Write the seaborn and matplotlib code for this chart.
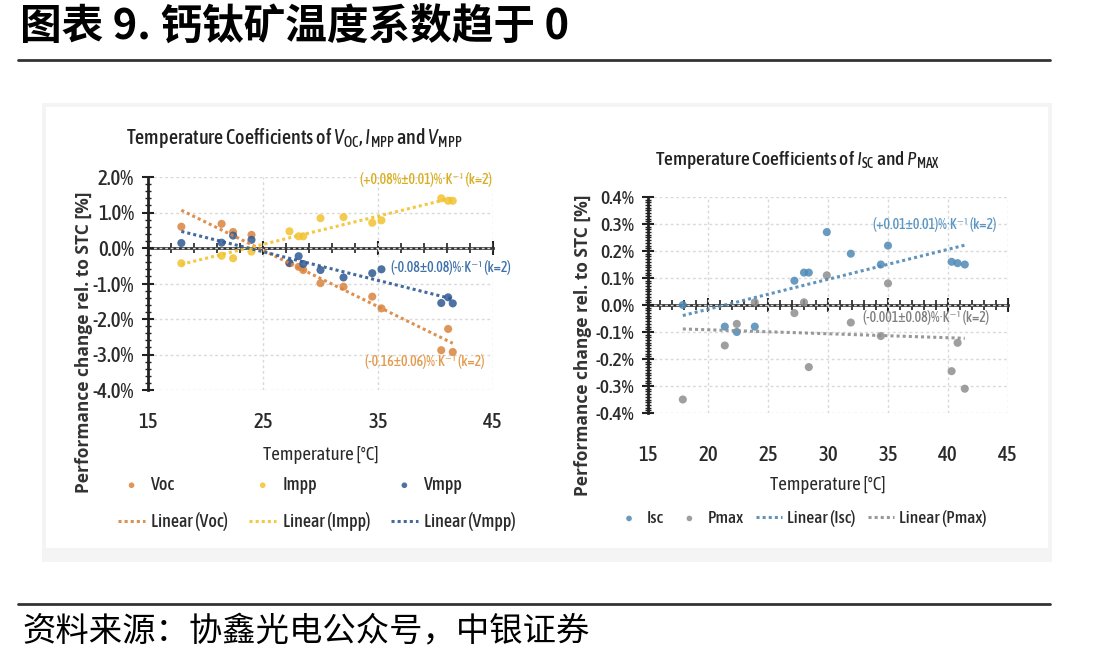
import numpy as np
import pandas as pd
import matplotlib
matplotlib.use('Agg')
import matplotlib.pyplot as plt
import seaborn as sns
from matplotlib.patches import Rectangle
from matplotlib.lines import Line2D
from matplotlib.ticker import FixedLocator, AutoMinorLocator, FuncFormatter

# ---- data -------------------------------------------------------------
temp_left = [17.9, 21.4, 22.4, 24.0, 27.3, 28.1, 28.5, 30.0, 32.0, 34.5, 35.3, 40.5, 41.1, 41.5]
voc = [0.60, 0.68, 0.45, 0.37, -0.43, -0.53, -0.62, -0.99, -1.09, -1.37, -1.70, -2.88, -2.28, -2.93]
impp = [-0.43, -0.22, -0.29, -0.10, 0.47, 0.33, 0.33, 0.84, 0.87, 0.71, 0.78, 1.40, 1.33, 1.33]
vmpp = [0.14, 0.15, 0.35, 0.23, -0.42, -0.23, -0.45, -0.62, -0.83, -0.71, -0.60, -1.55, -1.39, -1.56]

temp_right = [17.9, 21.4, 22.4, 23.9, 27.2, 28.0, 28.4, 29.9, 31.9, 34.4, 35.0, 40.3, 40.8, 41.4]
isc = [0.00, -0.08, -0.10, -0.08, 0.09, 0.12, 0.12, 0.27, 0.19, 0.15, 0.22, 0.16, 0.155, 0.15]
pmax = [-0.35, -0.15, -0.07, 0.01, -0.03, 0.01, -0.23, 0.11, -0.065, -0.115, 0.08, -0.245, -0.14, -0.31]

left_series = ['Voc', 'Impp', 'Vmpp']
right_series = ['Isc', 'Pmax']
left_ticks = [15, 25, 35, 45]
right_ticks = [15, 20, 25, 30, 35, 40, 45]

left_notes = ['(+0.08%±0.01)%·K⁻¹ (k=2)', '(-0.08±0.08)%·K⁻¹ (k=2)', '(-0.16±0.06)%·K⁻¹ (k=2)']
right_notes = ['(+0.01±0.01)%·K⁻¹ (k=2)', '(-0.001±0.08)%·K⁻¹ (k=2)']

# ---- style ----------------------------------------------------------------
sns.set_style('white')
NARROW = ['Asap Condensed', 'DejaVu Sans']
plt.rcParams['font.family'] = NARROW
plt.rcParams['font.weight'] = 500
plt.rcParams['mathtext.fontset'] = 'custom'
plt.rcParams['mathtext.rm'] = 'Asap Condensed:medium'
plt.rcParams['mathtext.it'] = 'Asap Condensed:italic:medium'
CJK = ['Noto Sans CJK SC', 'DejaVu Sans']

colors = {'Voc': '#D9843E', 'Impp': '#F2C230', 'Vmpp': '#2F5A93',
          'Isc': '#4F89B5', 'Pmax': '#8E8E8E'}
note_colors = ['#D9AE1E', '#3E70AA', '#E29A4C']
note_colors_r = ['#5A96C4', '#7F7F7F']
AX_COL = '#222222'
TXT = '#2a2a2a'

W, H = 1099, 663
fig = plt.figure(figsize=(W / 100, H / 100), dpi=100)


def fx(x):
    return x / W


def fy(y):
    return 1 - y / H


def pct(v, pos):
    s = f"{v:.1f}%"
    return '0.0%' if s == '-0.0%' else s


# background of the embedded picture
fig.patches.append(Rectangle((fx(42), fy(562)), fx(1052) - fx(42), fy(103) - fy(562),
                             transform=fig.transFigure, facecolor='#f4f4f4', edgecolor='none', zorder=-5))
fig.patches.append(Rectangle((fx(46), fy(548)), fx(1048) - fx(46), fy(107) - fy(548),
                             transform=fig.transFigure, facecolor='white', edgecolor='none', zorder=-4))

# header / footer
fig.text(fx(20), fy(28), '图表 9. 钙钛矿温度系数趋于 0', family=CJK, fontsize=30,
         fontweight='bold', va='center', ha='left', color='black')
fig.add_artist(Line2D([fx(18), fx(1050)], [fy(60), fy(60)], color='#333333', lw=2))
fig.add_artist(Line2D([fx(18), fx(1050)], [fy(604), fy(604)], color='#333333', lw=2))
fig.text(fx(22), fy(632), '资料来源：协鑫光电公众号，中银证券', family=CJK, fontsize=24,
         fontweight='light', va='center', ha='left', color='black')


def style_axes(ax, xlim, ylim, xmaj, ymaj, yminor_n, tick_pad, zero_maj, zero_min, ysize):
    ax.set_xlim(*xlim)
    ax.set_ylim(*ylim)
    ax.set_facecolor('none')
    for s in ['top', 'right', 'bottom']:
        ax.spines[s].set_visible(False)
    ax.spines['left'].set_linewidth(2)
    ax.spines['left'].set_color(AX_COL)
    ax.xaxis.set_major_locator(FixedLocator(xmaj))
    ax.yaxis.set_major_locator(FixedLocator(ymaj))
    ax.yaxis.set_minor_locator(AutoMinorLocator(yminor_n))
    ax.yaxis.set_major_formatter(FuncFormatter(pct))
    ax.tick_params(axis='x', length=0, pad=tick_pad, labelsize=15, labelcolor=TXT)
    ax.tick_params(axis='y', which='major', direction='inout', length=8, width=1.5,
                   color=AX_COL, labelsize=ysize, labelcolor=TXT, pad=6, left=True)
    ax.tick_params(axis='y', which='minor', direction='inout', length=5, width=1,
                   color=AX_COL, left=True)
    ax.grid(True, which='major', ls=(0, (2, 2)), color='#d9d9d9', lw=1)
    ax.set_axisbelow(True)
    # zero line with its tick marks
    frac = (0 - ylim[0]) / (ylim[1] - ylim[0])
    sec = ax.secondary_xaxis(frac)
    sec.xaxis.set_major_locator(FixedLocator(zero_maj))
    sec.xaxis.set_minor_locator(FixedLocator(zero_min))
    sec.tick_params(which='major', direction='inout', length=10, width=1.5, color=AX_COL,
                    labeltop=False, labelbottom=False)
    sec.tick_params(which='minor', direction='inout', length=7, width=1.2, color=AX_COL)
    for s in sec.spines.values():
        s.set_linewidth(2)
        s.set_color('#333333')


# ---- left chart -------------------------------------------------------------
ax1 = fig.add_axes([fx(148), fy(390), fx(493) - fx(148), fy(177) - fy(390)])
df_left = pd.DataFrame({'temp': temp_left, 'Voc': voc, 'Impp': impp, 'Vmpp': vmpp})
for name in left_series:
    sns.scatterplot(data=df_left, x='temp', y=name, color=colors[name], s=34,
                    edgecolor='none', alpha=0.85, label=name, ax=ax1)
for name in left_series:
    sns.regplot(data=df_left, x='temp', y=name, scatter=False, ci=None, ax=ax1,
                label=f'Linear ({name})',
                line_kws=dict(color=colors[name], lw=2.2, ls=(0, (1, 1)), alpha=0.9))
style_axes(ax1, (15, 45), (-4, 2), left_ticks, np.arange(-4, 2.1, 1),
           5, 16, left_ticks, list(range(15, 46, 2)), 15)
ax1.set_xlabel('Temperature [°C]', fontsize=13.5, color=TXT, labelpad=10)
ax1.set_ylabel('')
ax1.text(39.2, 1.92, left_notes[0], color=note_colors[0], fontsize=10, ha='center', va='center')
ax1.text(41.3, -0.54, left_notes[1], color=note_colors[1], fontsize=10, ha='center', va='center')
ax1.text(39.1, -3.21, left_notes[2], color=note_colors[2], fontsize=10, ha='center', va='center')

h, l = ax1.get_legend_handles_labels()
pos = {lab: i for i, lab in enumerate(l)}
wanted = ['Voc', 'Linear (Voc)', 'Impp', 'Linear (Impp)', 'Vmpp', 'Linear (Vmpp)']
ax1.legend([h[pos[w]] for w in wanted], wanted, ncol=3, loc='upper left',
           bbox_to_anchor=(fx(118), fy(476)), bbox_transform=fig.transFigure,
           frameon=False, fontsize=13, handlelength=1.5, handletextpad=0.35,
           columnspacing=1.15, labelspacing=1.0, borderpad=0, borderaxespad=0,
           markerscale=0.7, labelcolor=TXT)

fig.text(fx(294), fy(138), r'Temperature Coefficients of $\mathit{V}_{\mathrm{OC}}$, '
         r'$\mathit{I}_{\mathrm{MPP}}$ and $\mathit{V}_{\mathrm{MPP}}$',
         fontsize=14.5, ha='center', va='center', color='#222222')
fig.text(fx(84), fy(342), 'Performance change rel. to STC [%]', family=['Open Sans', 'DejaVu Sans'],
         fontsize=12.5, fontweight='bold', rotation=90, ha='center', va='center', color='#333333')

# ---- right chart ------------------------------------------------------------
ax2 = fig.add_axes([fx(648), fy(413), fx(1008) - fx(648), fy(197) - fy(413)])
df_right = pd.DataFrame({'temp': temp_right, 'Isc': isc, 'Pmax': pmax})
for name in right_series:
    sns.scatterplot(data=df_right, x='temp', y=name, color=colors[name], s=34,
                    edgecolor='none', alpha=0.85, label=name, ax=ax2)
for name in right_series:
    sns.regplot(data=df_right, x='temp', y=name, scatter=False, ci=None, ax=ax2,
                label=f'Linear ({name})',
                line_kws=dict(color=colors[name], lw=2.2, ls=(0, (1, 1)), alpha=0.9))
style_axes(ax2, (15, 45), (-0.4, 0.4), right_ticks,
           np.round(np.arange(-0.4, 0.41, 0.1), 2), 10, 23, right_ticks, list(range(15, 46)), 14)
ax2.set_xlabel('Temperature [°C]', fontsize=13.5, color=TXT, labelpad=8)
ax2.set_ylabel('')
ax2.text(38.9, 0.299, right_notes[0], color=note_colors_r[0], fontsize=10, ha='center', va='center')
ax2.text(38.2, -0.048, right_notes[1], color=note_colors_r[1], fontsize=10, ha='center', va='center')

h, l = ax2.get_legend_handles_labels()
pos = {lab: i for i, lab in enumerate(l)}
wanted = ['Isc', 'Pmax', 'Linear (Isc)', 'Linear (Pmax)']
ax2.legend([h[pos[w]] for w in wanted], wanted, ncol=4, loc='upper left',
           bbox_to_anchor=(fx(616), fy(510)), bbox_transform=fig.transFigure,
           frameon=False, fontsize=12.5, handlelength=1.5, handletextpad=0.3,
           columnspacing=0.7, borderpad=0, borderaxespad=0,
           markerscale=0.7, labelcolor=TXT)

fig.text(fx(798), fy(160), r'Temperature Coefficients of $\mathit{I}_{\mathrm{SC}}$ and '
         r'$\mathit{P}_{\mathrm{MAX}}$', fontsize=14, ha='center', va='center', color='#222222')
fig.text(fx(583), fy(345), 'Performance change rel. to STC [%]', family=['Open Sans', 'DejaVu Sans'],
         fontsize=12.5, fontweight='bold', rotation=90, ha='center', va='center', color='#333333')

fig.savefig('out.png', dpi=100)
